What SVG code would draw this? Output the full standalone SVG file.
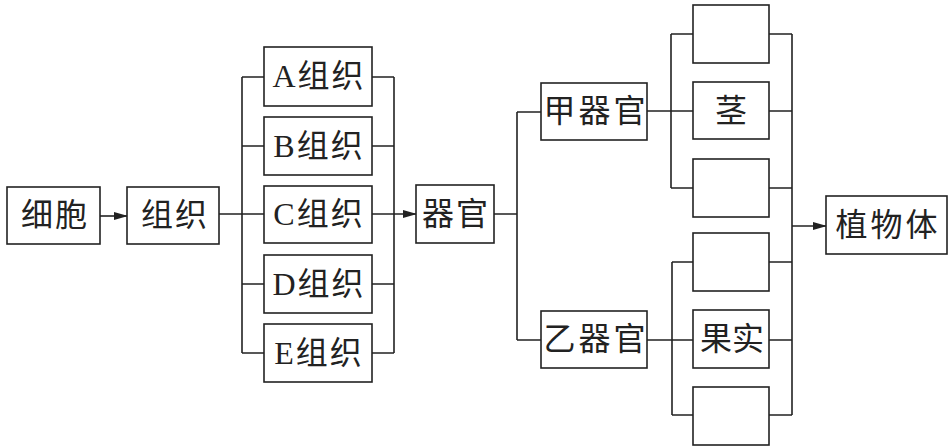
<svg xmlns="http://www.w3.org/2000/svg" width="949" height="447" viewBox="0 0 949 447">
<style>
.box{fill:#fff;stroke:#222;stroke-width:1.6}
.ln{fill:none;stroke:#222;stroke-width:1.6}
text{font-family:"Liberation Serif","Noto Sans CJK SC",serif;font-size:32px;fill:#222;text-anchor:middle;dominant-baseline:central;letter-spacing:2px}
</style>
<defs>
<marker id="ah" markerWidth="14" markerHeight="10" refX="13" refY="5" orient="auto" markerUnits="userSpaceOnUse">
<path d="M0,1 L14,5 L0,9 Z" fill="#222"/>
</marker>
</defs>
<rect width="949" height="447" fill="#fff"/>
<g id="connectors">
<line class="ln" x1="100" y1="216" x2="127" y2="216" marker-end="url(#ah)"/>
<path class="ln" d="M219,214 H264 M242,77 V353 M242,77 H264 M242,146 H264 M242,284 H264 M242,353 H264"/>
<path class="ln" d="M372,77 H394 M372,146 H394 M372,284 H394 M372,353 H394 M394,77 V353"/>
<line class="ln" x1="372" y1="214" x2="416" y2="214" marker-end="url(#ah)"/>
<path class="ln" d="M494,214 H517 M517,112 V340 M517,112 H541 M517,340 H541"/>
<path class="ln" d="M647,111 H693 M671,34 V188 M671,34 H693 M671,188 H693"/>
<path class="ln" d="M647,340 H693 M672,262 V415 M672,262 H693 M672,415 H693"/>
<path class="ln" d="M769,34 H792 M769,111 H792 M769,188 H792 M769,262 H792 M769,340 H792 M769,415 H792 M792,34 V415"/>
<line class="ln" x1="792" y1="226" x2="826" y2="226" marker-end="url(#ah)"/>
</g>
<g id="n-xibao"><rect class="box" x="7" y="187" width="93" height="57"/><text x="55" y="215">细胞</text></g>
<g id="n-zuzhi"><rect class="box" x="127" y="187" width="92" height="57"/><text x="175" y="215">组织</text></g>
<g id="n-A"><rect class="box" x="264" y="47" width="108" height="59"/><text x="319" y="76">A组织</text></g>
<g id="n-B"><rect class="box" x="264" y="117" width="108" height="58"/><text x="319" y="146">B组织</text></g>
<g id="n-C"><rect class="box" x="264" y="186" width="108" height="57"/><text x="319" y="214">C组织</text></g>
<g id="n-D"><rect class="box" x="264" y="255" width="108" height="58"/><text x="319" y="284">D组织</text></g>
<g id="n-E"><rect class="box" x="264" y="324" width="108" height="58"/><text x="319" y="353">E组织</text></g>
<g id="n-qiguan"><rect class="box" x="416" y="185" width="78" height="58"/><text x="456" y="214">器官</text></g>
<g id="n-jia"><rect class="box" x="541" y="83" width="106" height="57"/><text x="596" y="111" style="letter-spacing:3px">甲器官</text></g>
<g id="n-yi"><rect class="box" x="541" y="311" width="106" height="57"/><text x="596" y="339" style="letter-spacing:3px">乙器官</text></g>
<g id="n-r1"><rect class="box" x="693" y="5" width="76" height="58"/></g>
<g id="n-jing"><rect class="box" x="693" y="82" width="76" height="57"/><text x="731" y="111" style="letter-spacing:0">茎</text></g>
<g id="n-r3"><rect class="box" x="693" y="159" width="76" height="58"/></g>
<g id="n-r4"><rect class="box" x="693" y="233" width="76" height="58"/></g>
<g id="n-guoshi"><rect class="box" x="693" y="310" width="76" height="58"/><text x="732" y="339" style="letter-spacing:0">果实</text></g>
<g id="n-r6"><rect class="box" x="693" y="387" width="76" height="58"/></g>
<g id="n-zhiwuti"><rect class="box" x="826" y="196" width="121" height="58"/><text x="888" y="225" style="letter-spacing:3px">植物体</text></g>
</svg>
